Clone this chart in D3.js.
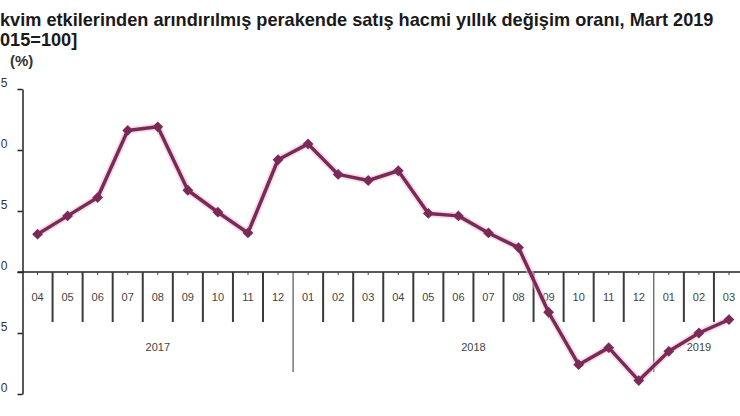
<!DOCTYPE html>
<html>
<head>
<meta charset="utf-8">
<script src="https://cdn.jsdelivr.net/npm/d3@7"></script>
<style>
  body { margin: 0; background: #fff; }
  svg { display: block; font-family: "Liberation Sans", Arial, sans-serif; }
</style>
</head>
<body>
<svg id="chart" width="740" height="416"></svg>
<script>
// data
const months = ['04', '05', '06', '07', '08', '09', '10', '11', '12',
  '01', '02', '03', '04', '05', '06', '07', '08', '09', '10', '11', '12',
  '01', '02', '03'];
const years = ['2017', '2018', '2019'];
const yearStart = [0, 9, 21]; // index of first month of each year
const values = [3.1, 4.6, 6.1, 11.6, 11.9, 6.7, 4.9, 3.2, 9.2,
  10.5, 8.0, 7.5, 8.3, 4.8, 4.6, 3.2, 2.0, -3.3, -7.6, -6.2, -8.9,
  -6.5, -5.0, -3.9];
const yTicks = [15, 10, 5, 0, -5, -10];
// the picture is cropped on the left, only the last digit of each shows
const yTickLabels = ['5', '0', '5', '0', '5', '0'];

const titleLines = [
  'kvim etkilerinden arındırılmış perakende satış hacmi yıllık değişim oranı, Mart 2019',
  '015=100]',
];
const unit = '(%)';

const svg = d3.select('#chart');
const width = 740;
const height = 416;
const margin = { top: 89, bottom: 22, left: 22.5, right: -4 };

const lineColor = '#7b2a58';

const idx = months.map((d, i) => i);

const scaleX = d3
  .scaleBand()
  .domain(idx)
  .range([margin.left, width - margin.right])
  .padding(0);

const scaleY = d3
  .scaleLinear()
  .domain([-10, 15])
  .range([height - margin.bottom, margin.top]);

const y0 = scaleY(0);

// title, first line fitted to end near x = 715
const title = svg
  .append('text')
  .attr('x', 0)
  .attr('y', 26)
  .style('font-size', '18px')
  .style('font-weight', 'bold')
  .style('fill', '#1a1a1a')
  .text(titleLines[0]);
const tw = title.node().getComputedTextLength();
const fs = Math.min(19, 18 * 714 / tw);
title.style('font-size', fs + 'px');

svg
  .append('text')
  .attr('x', 0)
  .attr('y', 46)
  .style('font-size', fs + 'px')
  .style('font-weight', 'bold')
  .style('fill', '#1a1a1a')
  .text(titleLines[1]);

svg
  .append('text')
  .attr('x', 10)
  .attr('y', 66)
  .style('font-size', '15px')
  .style('font-weight', 'bold')
  .style('fill', '#333')
  .text(unit);

// y axis
const yAxis = d3
  .axisLeft(scaleY)
  .tickValues(yTicks)
  .tickFormat((d, i) => yTickLabels[i])
  .tickSize(5)
  .tickSizeOuter(0)
  .tickPadding(10);

const gy = svg
  .append('g')
  .attr('transform', `translate(${margin.left}, 0)`)
  .call(yAxis);
gy.select('.domain').attr('stroke', '#222').attr('stroke-width', 1.5);
gy.selectAll('.tick line').attr('stroke', '#222').attr('stroke-width', 1.5);
gy.selectAll('.tick text')
  .attr('dy', '-0.25em')
  .style('font-size', '12px')
  .style('fill', '#333');

// x axis line
svg
  .append('line')
  .attr('x1', margin.left - 5)
  .attr('x2', width)
  .attr('y1', y0)
  .attr('y2', y0)
  .attr('stroke', '#222')
  .attr('stroke-width', 1.5);

// small ticks at month centres
svg
  .selectAll('.mtick')
  .data(idx)
  .enter()
  .append('line')
  .attr('class', 'mtick')
  .attr('x1', (d) => scaleX(d) + scaleX.bandwidth() / 2)
  .attr('x2', (d) => scaleX(d) + scaleX.bandwidth() / 2)
  .attr('y1', y0)
  .attr('y2', y0 + 3)
  .attr('stroke', '#444')
  .attr('stroke-width', 1);

// separators between months, longer ones between years
svg
  .selectAll('.sep')
  .data(idx.slice(1))
  .enter()
  .append('line')
  .attr('class', 'sep')
  .attr('x1', (d) => scaleX(d))
  .attr('x2', (d) => scaleX(d))
  .attr('y1', y0)
  .attr('y2', (d) => (yearStart.includes(d) ? y0 + 100 : y0 + 50))
  .attr('stroke', (d) => (yearStart.includes(d) ? '#333' : '#3a3a3a'))
  .attr('stroke-width', (d) => (yearStart.includes(d) ? 1 : 2));

// month labels
svg
  .selectAll('.mlabel')
  .data(idx)
  .enter()
  .append('text')
  .attr('class', 'mlabel')
  .attr('x', (d) => scaleX(d) + scaleX.bandwidth() / 2)
  .attr('y', y0 + 29)
  .attr('text-anchor', 'middle')
  .style('font-size', '11px')
  .style('fill', '#444')
  .text((d) => months[d]);

// year labels
svg
  .selectAll('.ylabel')
  .data(years)
  .enter()
  .append('text')
  .attr('class', 'ylabel')
  .attr('x', (d, i) => {
    const a = scaleX(yearStart[i]);
    const lastIdx = i < years.length - 1 ? yearStart[i + 1] : months.length;
    const b = lastIdx < months.length ? scaleX(lastIdx) : scaleX.range()[1];
    return (a + b) / 2;
  })
  .attr('y', y0 + 79)
  .attr('text-anchor', 'middle')
  .style('font-size', '11px')
  .style('fill', '#444')
  .text((d) => d);

// series
const line = d3
  .line()
  .x((d, i) => scaleX(i) + scaleX.bandwidth() / 2)
  .y((d) => scaleY(d));

svg
  .append('path')
  .datum(values)
  .attr('d', line)
  .attr('fill', 'none')
  .attr('stroke', '#e9c4d6')
  .attr('stroke-opacity', 0.6)
  .attr('stroke-width', 7)
  .attr('stroke-linejoin', 'round');

svg
  .append('path')
  .datum(values)
  .attr('d', line)
  .attr('fill', 'none')
  .attr('stroke', lineColor)
  .attr('stroke-width', 3.5)
  .attr('stroke-linejoin', 'round');

const marker = d3.symbol().type(d3.symbolSquare).size(58);

svg
  .selectAll('.dot')
  .data(values)
  .enter()
  .append('path')
  .attr('class', 'dot')
  .attr('d', marker)
  .attr('transform', (d, i) =>
    `translate(${scaleX(i) + scaleX.bandwidth() / 2}, ${scaleY(d)}) rotate(45)`)
  .attr('fill', lineColor);
</script>
</body>
</html>
